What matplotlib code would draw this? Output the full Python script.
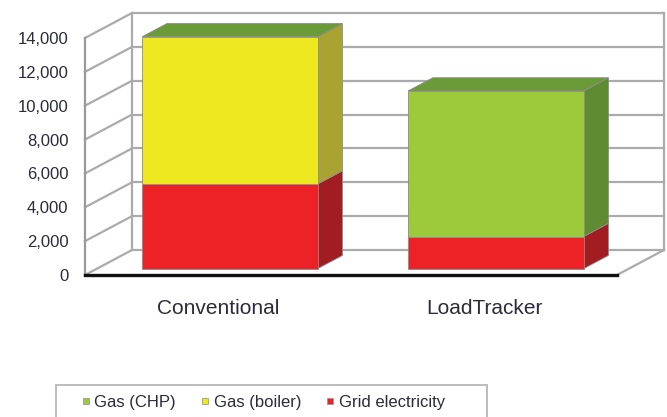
import matplotlib
matplotlib.use("Agg")
import matplotlib.pyplot as plt
from matplotlib.patches import Polygon, Rectangle
from matplotlib.lines import Line2D

plt.rcParams['font.family'] = ['Liberation Sans', 'DejaVu Sans']

# data (kWh-ish)
categories = ["Conventional", "LoadTracker"]
series_names = ["Gas (CHP)", "Gas (boiler)", "Grid electricity"]
grid_electricity = [5000, 1900]
gas_boiler = [8700, 0]
gas_chp = [0, 8600]
y_ticks = [0, 2000, 4000, 6000, 8000, 10000, 12000, 14000]

# colours: front, side, top
front_col = {"Gas (CHP)": "#9cca3b", "Gas (boiler)": "#ece71e", "Grid electricity": "#ec2227"}
side_col = {"Gas (CHP)": "#5f8b33", "Gas (boiler)": "#a9a331", "Grid electricity": "#a11d22"}
top_col = {"Gas (CHP)": "#6a9b38", "Gas (boiler)": "#c8c32a", "Grid electricity": "#c11f24"}

GRID = "#ababab"
TXT = "#2b2b3a"

# oblique depth of the whole box, in data units (x, value)
DX = 0.1767
DV = 1477
F0, F1 = 0.25, 0.78   # depth of the bar front / back faces
W = 0.66


def pt(x, v, d):
    return (x + d * DX, v + d * DV)


def draw_bar(ax, x, lo, hi, name, with_top):
    x0, x1 = x - W / 2, x + W / 2
    ec = "#8c8c8c"
    if hi > lo:
        side = Polygon([pt(x1, lo, F0), pt(x1, lo, F1), pt(x1, hi, F1), pt(x1, hi, F0)],
                       closed=True, facecolor=side_col[name], edgecolor=ec, lw=0.6,
                       clip_on=False, zorder=3)
        ax.add_patch(side)
        ax.bar(x + F0 * DX, hi - lo, bottom=lo + F0 * DV, width=W, color=front_col[name],
               edgecolor=ec, linewidth=0.6, clip_on=False, zorder=4)
    if with_top:
        top = Polygon([pt(x0, hi, F0), pt(x1, hi, F0), pt(x1, hi, F1), pt(x0, hi, F1)],
                      closed=True, facecolor=top_col[name], edgecolor=ec, lw=0.6,
                      clip_on=False, zorder=3)
        ax.add_patch(top)


def main():
    fig = plt.figure(figsize=(6.67, 4.17), dpi=100)
    ax = fig.add_axes([85 / 667, 142 / 417, 532 / 667, 237 / 417])
    ax.set_xlim(-0.5, 1.5)
    ax.set_ylim(0, 14000)
    for s in ax.spines.values():
        s.set_visible(False)

    xl, xr = -0.5, 1.5
    top = y_ticks[-1]
    # back wall grid lines + left wall diagonals
    for v in y_ticks:
        ax.plot([xl + DX, xr + DX], [v + DV, v + DV], color=GRID, lw=1.6, clip_on=False, zorder=1)
        ax.plot([xl, xl + DX], [v, v + DV], color=GRID, lw=1.6, clip_on=False, zorder=1)
    ax.plot([xl, xl], [0, top], color="#999999", lw=1.6, clip_on=False, zorder=1)
    ax.plot([xl + DX, xl + DX], [DV, top + DV], color=GRID, lw=1.6, clip_on=False, zorder=1)
    ax.plot([xr + DX, xr + DX], [DV, top + DV], color=GRID, lw=1.6, clip_on=False, zorder=1)
    ax.plot([xr, xr + DX], [0, DV], color=GRID, lw=1.6, clip_on=False, zorder=1)
    ax.plot([xl, xr], [0, 0], color="#111111", lw=2.4, clip_on=False, zorder=5)

    # stacked 3d-ish bars
    stacks = [("Grid electricity", grid_electricity), ("Gas (boiler)", gas_boiler),
              ("Gas (CHP)", gas_chp)]
    for i in range(len(categories)):
        lo = 0
        for k, (name, vals) in enumerate(stacks):
            hi = lo + vals[i]
            draw_bar(ax, i, lo, hi, name, with_top=(k == len(stacks) - 1))
            lo = hi

    ax.set_yticks(y_ticks, labels=[f"{v:,}" for v in y_ticks])
    ax.set_xticks(range(len(categories)), labels=categories)
    ax.tick_params(axis="y", length=0, pad=12, labelsize=12, labelcolor=TXT)
    ax.tick_params(axis="x", length=0, pad=17, labelsize=15, labelcolor=TXT)

    handles = [Line2D([], [], marker="s", linestyle="none", markersize=5,
                      markerfacecolor=front_col[n], markeredgecolor="#9a9a9a",
                      markeredgewidth=0.6) for n in series_names]
    fig.legend(handles, series_names, loc="center left", bbox_to_anchor=(82 / 667, 1 - 402 / 417),
               ncol=3, frameon=False, fontsize=12, handlelength=0.5, handletextpad=0.25,
               columnspacing=1.5, borderpad=0, borderaxespad=0, labelcolor=TXT)
    fig.patches.append(Rectangle((56 / 667, -0.1), (487 - 56) / 667, 0.1 + (417 - 385) / 417,
                                 transform=fig.transFigure, fill=False,
                                 edgecolor="#bdbdbd", lw=1.4))

    fig.savefig("out.png", dpi=100)


if __name__ == '__main__':
    main()
